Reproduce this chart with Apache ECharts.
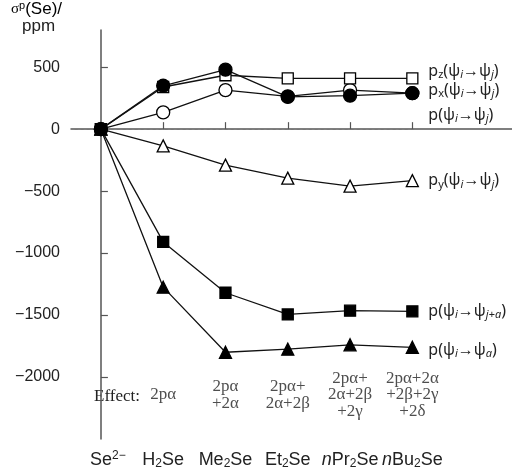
<!DOCTYPE html>
<html>
<head>
<meta charset="utf-8">
<script src="https://cdn.jsdelivr.net/npm/echarts@6/dist/echarts.min.js"></script>
<style>html,body{margin:0;padding:0;background:#fff;}#c{width:512px;height:470px;}</style>
</head>
<body>
<div id="c"></div>
<script>
// ---- data ----
const categories = ['{pad|}Se{sup|2−}', 'H{sub|2}Se', 'Me{sub|2}Se', 'Et{sub|2}Se', '{it|n}Pr{sub|2}Se', '{it|n}Bu{sub|2}Se'];
const yTicks = [-2000, -1500, -1000, -500, 0, 500];
const pz   = [0, 340, 435, 410, 410, 410];
const px   = [0, 350, 480, 260, 270, 290];
const pTot = [0, 135, 315, 265, 315, 290];
const py   = [0, -135, -290, -395, -460, -415];
const pJa  = [0, -910, -1320, -1495, -1465, -1470];
const pA   = [0, -1275, -1800, -1775, -1740, -1760];
const effects = ['', '2pα', '2pα\n+2α', '2pα+\n2α+2β', '2pα+\n2α+2β\n+2γ', '2pα+2α\n+2β+2γ\n+2δ'];
const EFFECT_Y = -2145;

const SANS = 'Liberation Sans';
const LBL = 'Noto Sans';
const richLbl = {
  b: {fontFamily: LBL, fontSize: 16, color: '#222'},
  s: {fontFamily: LBL, fontSize: 11, color: '#222', padding: [8, 0, 0, 0]},
  si: {fontFamily: LBL, fontSize: 11, color: '#222', fontStyle: 'italic', padding: [8, 0, 0, 0]}
};
function mk(name, values, symbol, filled, size, labelText, dy, z) {
  return {
    name: name, type: 'line', data: values.map((v, i) => [i, v]),
    symbol: symbol, symbolSize: size, z: z,
    lineStyle: {color: '#111', width: 1.3},
    itemStyle: {color: filled ? '#000' : '#fff', borderColor: '#000', borderWidth: 1.3, opacity: 1},
    endLabel: {show: true, formatter: labelText, offset: [8, dy], rich: richLbl},
    emphasis: {disabled: true}, animation: false
  };
}
const arrowTxt = (tail) => '{b|(ψ}{si|i}{b|→ψ}' + tail + '{b|)}';
const series = [
  mk('pA', pA, 'triangle', true, 12, '{b|p}' + arrowTxt('{si|a}'), 3, 2),
  mk('pJa', pJa, 'rect', true, 11, '{b|p}' + arrowTxt('{si|j+a}'), 0, 3),
  mk('py', py, 'triangle', false, 12, '{b|p}{s|y}' + arrowTxt('{si|j}'), 0, 4),
  mk('pTot', pTot, 'circle', false, 13, '{b|p}' + arrowTxt('{si|j}'), 22, 5),
  mk('pz', pz, 'rect', false, 11, '{b|p}{s|z}' + arrowTxt('{si|j}'), -7, 6),
  mk('px', px, 'circle', true, 13, '{b|p}{s|x}' + arrowTxt('{si|j}'), -3, 7),
];
series[0].markLine = {
  silent: true, symbol: 'none', label: {show: false},
  lineStyle: {type: [3, 3], color: '#777', width: 1},
  data: [[{coord: [-0.42, 0]}, {coord: [5.07, 0]}]]
};
series.push({
  type: 'scatter', symbolSize: 0, silent: true, animation: false,
  data: effects.map((t, i) => ({value: [i, EFFECT_Y], name: t})).filter(d => d.name !== ''),
  label: {show: true, position: 'inside', formatter: (p) => p.name, fontFamily: 'Liberation Serif', fontSize: 17, lineHeight: 16.5, color: '#222', align: 'center'}
});

const chart = echarts.init(document.getElementById('c'));
chart.setOption({
  backgroundColor: '#fff',
  animation: false,
  grid: {left: 71, right: 0, top: 30, bottom: 29},
  xAxis: {
    type: 'value', min: -0.48, max: 6.6,
    axisLine: {show: true, lineStyle: {color: '#555', width: 1.5}},
    axisTick: {show: true, inside: true, length: 7, customValues: [0, 1, 2, 3, 4, 5], lineStyle: {color: '#555', width: 1.2}},
    splitLine: {show: false},
    axisLabel: {
      customValues: [0, 1, 2, 3, 4, 5], margin: 11,
      formatter: (v) => categories[Math.round(v)],
      rich: {
        sub: {fontFamily: SANS, fontSize: 12, color: '#222', padding: [8, 0, 0, 0]},
        sup: {fontFamily: SANS, fontSize: 12, color: '#222', padding: [0, 0, 8, 0]},
        it: {fontFamily: SANS, fontSize: 18, color: '#222', fontStyle: 'italic'},
        pad: {width: 14}
      },
      fontFamily: SANS, fontSize: 18, color: '#222'
    }
  },
  yAxis: {
    type: 'value', min: -2500, max: 800,
    axisLine: {show: true, lineStyle: {color: '#555', width: 1.5}},
    axisTick: {show: true, inside: true, length: 7, customValues: yTicks, lineStyle: {color: '#555', width: 1.2}},
    splitLine: {show: false},
    axisLabel: {
      customValues: yTicks, margin: 11,
      formatter: (v) => String(v).replace('-', '−'),
      fontFamily: SANS, fontSize: 16, color: '#222'
    }
  },
  graphic: [
    {type: 'text', left: 11, top: 0, style: {
      text: '{g|σ}{p|p}{t|(Se)/}', rich: {
        g: {fontFamily: 'Liberation Serif', fontSize: 15, color: '#222'},
        p: {fontFamily: SANS, fontSize: 11, color: '#222', padding: [0, 0, 7, 0]},
        t: {fontFamily: SANS, fontSize: 17, color: '#222'}
      }}},
    {type: 'text', left: 22, top: 18, style: {text: 'ppm', fontFamily: SANS, fontSize: 17, fill: '#222'}},
    {type: 'text', left: 94, top: 388, style: {text: 'Effect:', fontFamily: 'Liberation Serif', fontSize: 17, fill: '#222'}}
  ],
  series: series
});
</script>
</body>
</html>
